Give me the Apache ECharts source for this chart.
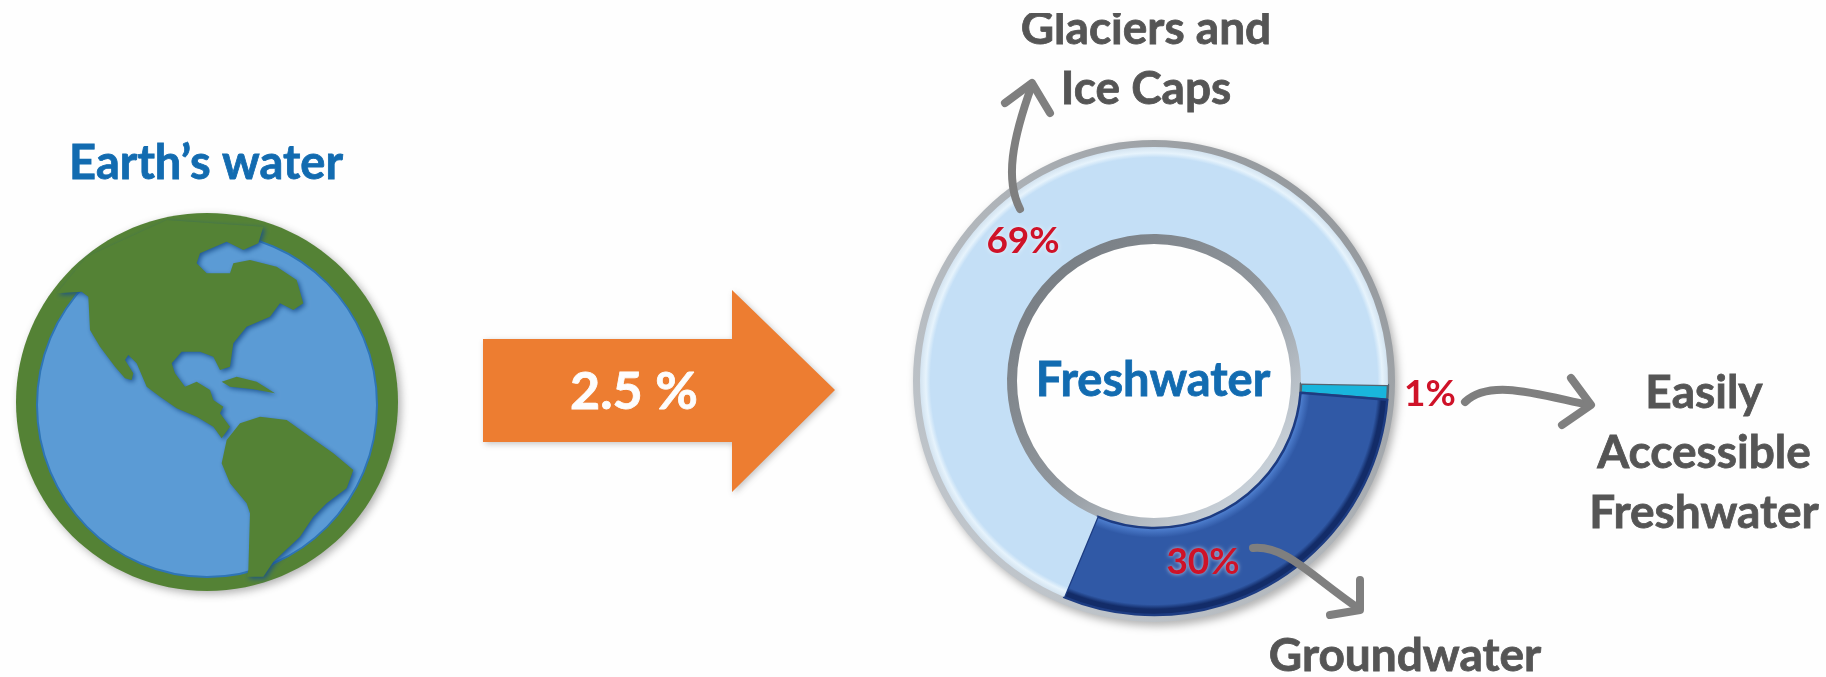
<!DOCTYPE html>
<html><head><meta charset="utf-8">
<style>html,body{margin:0;background:#fff}#c{width:1826px;height:677px}</style>
<script src="https://cdn.jsdelivr.net/npm/echarts@6/dist/echarts.min.js"></script></head>
<body><div id="c"></div>
<script>
const categories = ['Easily Accessible Freshwater', 'Groundwater', 'Glaciers and Ice Caps'];
const shares = [1, 30, 69];
const sliceColors = ['#19b5dc', '#3059a6', '#c4dff6'];
const sliceInner = ['#19b5dc', '#4f80d0', '#c4dff6'];
const sliceOuter = ['#19b5dc', '#132c68', '#e6f3fc'];
const sliceEdges = ['#56646f', '#1d3c82', '#a9bdd0'];
const labelSpots = [[1430, 394], [1203, 562], [1023, 241]];
const landNorth = [[245,485],[265,500],[270,600],[300,650],[345,710],[375,745],[395,750],[400,730],[375,690],[385,675],[410,700],[440,770],[480,800],[530,835],[590,860],[640,890],[665,925],[690,890],[660,850],[670,830],[640,810],[630,780],[590,755],[555,770],[525,730],[515,700],[545,665],[600,665],[640,680],[660,720],[690,710],[700,640],[740,590],[810,560],[840,520],[880,540],[910,520],[890,450],[830,410],[750,390],[700,400],[690,430],[620,430],[590,400],[600,370],[680,335],[730,360],[775,340],[790,290],[500,270],[260,380],[170,490]];
const landCuba = [[665,755],[710,740],[770,755],[825,790],[760,778],[690,770]];
const landSouth = [[680,930],[720,880],[780,860],[860,870],[930,920],[1000,970],[1060,1020],[1040,1075],[980,1120],[940,1160],[900,1220],[820,1295],[790,1340],[740,1340],[745,1320],[750,1150],[740,1120],[690,1060],[665,1000]];
const labelFont = 'Lato, "Open Sans", sans-serif';
function txt(s,x,y,size,fill,extra){return {type:'text',x,y,z:20,style:Object.assign({text:s,x:0,y:0,align:'center',verticalAlign:'middle',font:'bold '+size+'px '+labelFont,fill,stroke:fill,lineWidth:0.8},extra||{})};}
const st={stroke:'#7f7f7f',fill:'none',lineWidth:8,lineCap:'round',lineJoin:'round'};
function curve(p){return {type:'bezierCurve',z:15,shape:{x1:p[0],y1:p[1],cpx1:p[2],cpy1:p[3],cpx2:p[4],cpy2:p[5],x2:p[6],y2:p[7]},style:st};}
function head(pts){return {type:'polyline',z:15,shape:{points:pts},style:st};}
const G=s=>({x:0,y:130,scaleX:1/3,scaleY:1/3,z:5,style:{fill:'#548235',shadowColor:'rgba(25,80,140,.9)',shadowBlur:5,shadowOffsetX:2,shadowOffsetY:2},shape:{points:s},type:'polygon'});
const LG=echarts.graphic.LinearGradient, RG=echarts.graphic.RadialGradient;
const C=[1154,381];
const sliceFill=i=>new RG(C[0],C[1],234,[{offset:.63,color:sliceInner[i]},{offset:.67,color:sliceColors[i]},{offset:.955,color:sliceColors[i]},{offset:.975,color:sliceOuter[i]},{offset:1,color:i==2?'#d3e3f0':sliceOuter[i]}],true);
const chart = echarts.init(document.getElementById('c'));
chart.setOption({
 animation:false,
 backgroundColor:'#fefefe',
 series:[
  {type:'pie',silent:true,center:C,radius:[228,241],startAngle:0,label:{show:false},labelLine:{show:false},z:1,
   data:[{value:1,itemStyle:{color:new LG(0,1,1,0,[{offset:0,color:'#c6ccd2'},{offset:.5,color:'#b0b5ba'},{offset:1,color:'#8b8f93'}]),shadowColor:'rgba(60,60,60,.4)',shadowBlur:9,shadowOffsetX:3,shadowOffsetY:4}}]},
  {type:'pie',silent:true,center:C,radius:[137,152],startAngle:0,label:{show:false},labelLine:{show:false},z:1,
   data:[{value:1,itemStyle:{color:new LG(0,0,1,1,[{offset:0,color:'#6f757b'},{offset:.5,color:'#8f959b'},{offset:.8,color:'#c3cbd3'},{offset:1,color:'#dbe6f0'}])}}]},
  {type:'pie',center:C,radius:[147,234],startAngle:-1,clockwise:true,silent:true,z:2,avoidLabelOverlap:false,
   data:categories.map((n,i)=>({name:n,value:shares[i],itemStyle:{color:sliceFill(i),borderColor:sliceEdges[i],borderWidth:i==2?0:2.5}})),
   label:{show:true,position:'inside',formatter:p=>p.value+'%',fontFamily:'Lato',fontWeight:'bold',fontSize:37,color:'#cf1228',textShadowColor:'rgba(255,255,255,.7)',textShadowBlur:4},
   labelLine:{show:false},
   labelLayout:p=>({x:labelSpots[p.dataIndex][0],y:labelSpots[p.dataIndex][1],align:'center',verticalAlign:'middle'})}
 ],
 graphic:[
  {type:'ellipse',z:3,shape:{cx:207,cy:402,rx:191,ry:189},style:{fill:'#548235',shadowColor:'rgba(60,60,60,.4)',shadowBlur:8,shadowOffsetX:3,shadowOffsetY:3}},
  {type:'ellipse',z:4,shape:{cx:207,cy:405,rx:170,ry:172},style:{fill:'#5b9bd5',stroke:'#2e75b6',lineWidth:2}},
  G(landNorth),G(landCuba),G(landSouth),
  {type:'polygon',z:5,shape:{points:[[483,339],[732,339],[732,290],[835,390],[732,492],[732,442],[483,442]]},style:{fill:'#ed7d31',shadowColor:'rgba(90,90,90,.35)',shadowBlur:6,shadowOffsetX:2,shadowOffsetY:2}},
  txt('2.5 %',634,392,52,'#fdfdfd'),
  txt('Earth’s water',206,164,47,'#126bb0'),
  txt('Freshwater',1153,381,47,'#126bb0'),
  txt('Glaciers and',1146,29,46,'#555555'),
  txt('Ice Caps',1146,89,46,'#555555'),
  txt('Easily',1704,393,46,'#555555'),
  txt('Accessible',1704,453,46,'#555555'),
  txt('Freshwater',1704,513,46,'#555555'),
  txt('Groundwater',1405,656,46,'#555555'),
  {type:'rect',z:25,shape:{x:960,y:0,width:340,height:13},style:{fill:'#fefefe'}},
  curve([1020,209,1005,180,1012,140,1032,85]), head([[1005,103],[1032,83],[1050,113]]),
  curve([1465,402,1490,378,1540,395,1589,405]), head([[1571,378],[1591,405],[1562,425]]),
  curve([1253,548,1285,545,1310,575,1358,608]), head([[1360,580],[1360,610],[1330,615]])
 ]
});
</script></body></html>
